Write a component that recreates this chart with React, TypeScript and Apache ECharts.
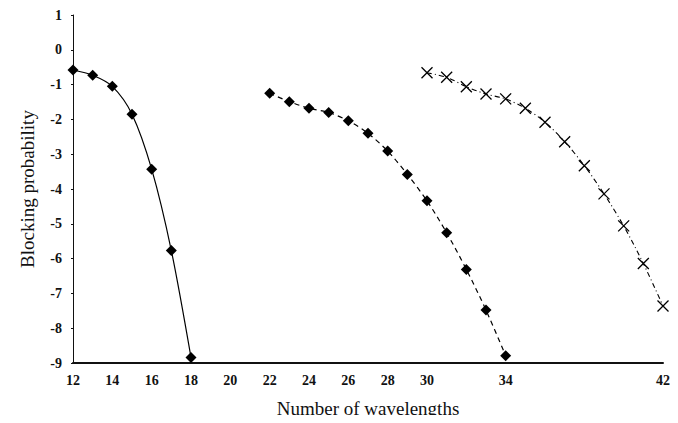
import React, { useEffect, useRef } from "react";
import * as echarts from "echarts";

const xShownLabels = [12, 14, 16, 18, 20, 22, 24, 26, 28, 30, 34, 42];

const s1X = [12, 13, 14, 15, 16, 17, 18];
const s1Y = [-0.58, -0.73, -1.05, -1.85, -3.43, -5.77, -8.84];

const s2X = [22, 23, 24, 25, 26, 27, 28, 29, 30, 31, 32, 33, 34];
const s2Y = [-1.25, -1.49, -1.68, -1.8, -2.04, -2.4, -2.91, -3.58, -4.34, -5.26, -6.31, -7.48, -8.79];

const s3X = [30, 31, 32, 33, 34, 35, 36, 37, 38, 39, 40, 41, 42];
const s3Y = [-0.66, -0.79, -1.06, -1.27, -1.41, -1.68, -2.08, -2.64, -3.33, -4.14, -5.06, -6.14, -7.36];

const zip = (xs: number[], ys: number[]) => xs.map((x, i) => [x, ys[i]]);

const FONT = "Liberation Serif";

export default function App() {
  const ref = useRef<HTMLDivElement>(null);
  useEffect(() => {
    if (!ref.current) return;
    const chart = echarts.init(ref.current, null, { renderer: "svg" });
    chart.setOption({
      animation: false,
      backgroundColor: "#ffffff",
      grid: { left: 73, right: 15, top: 15, bottom: 60 },
      xAxis: {
        type: "value",
        min: 12,
        max: 42,
        interval: 2,
        name: "Number of wavelengths",
        nameLocation: "middle",
        nameGap: 36,
        nameTextStyle: { fontFamily: FONT, fontSize: 19, color: "#111" },
        axisLine: { onZero: false, lineStyle: { color: "#111", width: 2 } },
        axisTick: { show: false },
        splitLine: { show: false },
        axisLabel: {
          fontFamily: FONT,
          fontSize: 14,
          fontWeight: "bold",
          color: "#111",
          margin: 10,
          formatter: (v: number) => (xShownLabels.includes(v) ? String(v) : ""),
        },
      },
      yAxis: {
        type: "value",
        min: -9,
        max: 1,
        interval: 1,
        name: "Blocking probability",
        nameLocation: "middle",
        nameGap: 36,
        nameTextStyle: { fontFamily: FONT, fontSize: 19, color: "#111" },
        axisLine: { show: true, onZero: false, lineStyle: { color: "#111", width: 1 } },
        axisTick: { show: true, length: 2, lineStyle: { color: "#111" } },
        splitLine: { show: false },
        axisLabel: {
          fontFamily: FONT,
          fontSize: 14,
          fontWeight: "bold",
          color: "#111",
          margin: 11,
        },
      },
      series: [
        {
          type: "line",
          data: zip(s1X, s1Y),
          smooth: 0.3,
          symbol: "diamond",
          symbolSize: 11,
          itemStyle: { color: "#000" },
          lineStyle: { color: "#000", width: 1.2, type: "solid" },
        },
        {
          type: "line",
          data: zip(s2X, s2Y),
          smooth: 0.3,
          symbol: "diamond",
          symbolSize: 11,
          itemStyle: { color: "#000" },
          lineStyle: { color: "#000", width: 1.2, type: [5, 4] },
        },
        {
          type: "line",
          data: zip(s3X, s3Y),
          smooth: 0.3,
          symbol: "path://M0,0L10,10M10,0L0,10",
          symbolSize: 11,
          itemStyle: { color: "none", borderColor: "#000", borderWidth: 1.3 },
          lineStyle: { color: "#000", width: 1.1, type: [5, 3, 1, 3] },
        },
      ],
    });
    return () => chart.dispose();
  }, []);
  return <div ref={ref} style={{ width: 678, height: 423, margin: -8 }} />;
}
